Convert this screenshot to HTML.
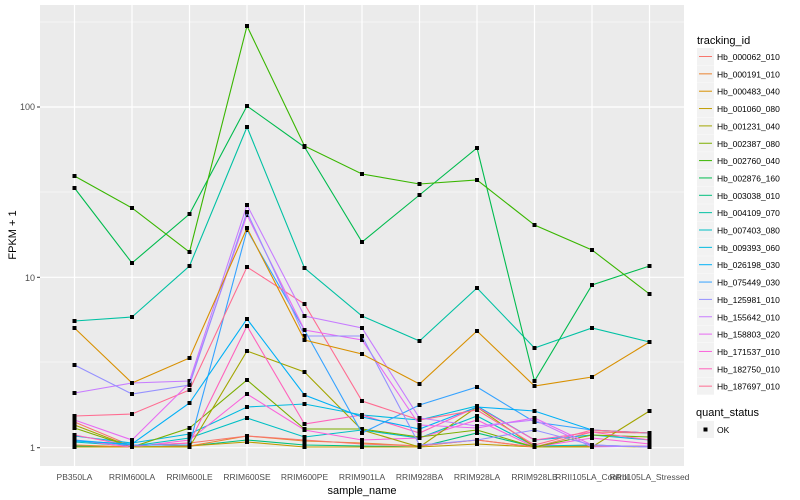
<!DOCTYPE html>
<html><head><meta charset="utf-8"><style>body{margin:0;background:#fff}svg{display:block;font-family:"Liberation Sans",sans-serif}</style></head><body>
<svg width="800" height="500" viewBox="0 0 800 500">
<defs><marker id="m" viewBox="0 0 4 4" refX="2" refY="2" markerWidth="4" markerHeight="4" markerUnits="userSpaceOnUse"><rect width="4" height="4" fill="#000"/></marker></defs>
<rect x="40" y="5" width="644" height="461" fill="#EBEBEB"/>
<g stroke="#fff" stroke-width="0.6"><line x1="40" x2="684" y1="362" y2="362"/><line x1="40" x2="684" y1="192" y2="192"/><line x1="40" x2="684" y1="22" y2="22"/></g>
<g stroke="#fff" stroke-width="1.2"><line x1="40" x2="684" y1="447.7" y2="447.7"/><line x1="40" x2="684" y1="277.3" y2="277.3"/><line x1="40" x2="684" y1="107" y2="107"/>
<line x1="74.5" x2="74.5" y1="5" y2="466"/><line x1="132" x2="132" y1="5" y2="466"/><line x1="189.5" x2="189.5" y1="5" y2="466"/><line x1="247" x2="247" y1="5" y2="466"/><line x1="304.5" x2="304.5" y1="5" y2="466"/><line x1="362" x2="362" y1="5" y2="466"/><line x1="419.5" x2="419.5" y1="5" y2="466"/><line x1="477" x2="477" y1="5" y2="466"/><line x1="534.5" x2="534.5" y1="5" y2="466"/><line x1="592" x2="592" y1="5" y2="466"/><line x1="649.5" x2="649.5" y1="5" y2="466"/></g>
<g fill="none" stroke-width="1.1" marker-start="url(#m)" marker-mid="url(#m)" marker-end="url(#m)">
<polyline stroke="#00BF7D" points="74.5,446 132,447 189.5,446 247,440 304.5,445 362,446 419.5,447 477,433 534.5,447 592,446 649.5,446"/>
<polyline stroke="#C09B00" points="74.5,447 132,447 189.5,446 247,442 304.5,447 362,447 419.5,447 477,444 534.5,447 592,446 649.5,447"/>
<polyline stroke="#EA8331" points="74.5,445 132,447 189.5,446 247,436 304.5,441 362,443 419.5,446 477,440 534.5,447 592,446 649.5,446"/>
<polyline stroke="#F8766D" points="74.5,422 132,446 189.5,443 247,436 304.5,440 362,444 419.5,446 477,440 534.5,447 592,432 649.5,433"/>
<polyline stroke="#00BFC4" points="74.5,442 132,446 189.5,438 247,418 304.5,437 362,430 419.5,438 477,416 534.5,446 592,445 649.5,447"/>
<polyline stroke="#00BAE0" points="74.5,436 132,443 189.5,434 247,407 304.5,404 362,415 419.5,420 477,406 534.5,440 592,435 649.5,440"/>
<polyline stroke="#FA62DB" points="74.5,440 132,447 189.5,440 247,394 304.5,430 362,440 419.5,438 477,420 534.5,447 592,438 649.5,444"/>
<polyline stroke="#7CAE00" points="74.5,428 132,447 189.5,428 247,380 304.5,429 362,429 419.5,437 477,430 534.5,447 592,435 649.5,437"/>
<polyline stroke="#A3A500" points="74.5,425 132,447 189.5,447 247,351 304.5,372 362,430 419.5,447 477,407 534.5,447 592,447 649.5,411"/>
<polyline stroke="#FF62BC" points="74.5,435 132,446 189.5,443 247,326 304.5,424 362,415 419.5,433 477,407 534.5,440 592,432 649.5,440"/>
<polyline stroke="#35A2FF" points="74.5,440 132,445 189.5,445 247,230 304.5,330 362,433 419.5,405 477,387 534.5,422 592,430 649.5,433"/>
<polyline stroke="#00B0F6" points="74.5,441 132,444 189.5,403 247,319 304.5,395 362,417 419.5,429 477,407 534.5,411 592,430 649.5,433"/>
<polyline stroke="#FF6C91" points="74.5,416 132,414 189.5,390 247,267 304.5,304 362,401 419.5,420 477,410 534.5,445 592,430 649.5,433"/>
<polyline stroke="#E76BF3" points="74.5,420 132,440 189.5,383 247,215 304.5,330 362,340 419.5,425 477,428 534.5,418 592,445 649.5,447"/>
<polyline stroke="#C77CFF" points="74.5,393 132,383 189.5,381 247,205 304.5,316 362,328 419.5,418 477,426 534.5,420 592,447 649.5,446"/>
<polyline stroke="#9590FF" points="74.5,365 132,394 189.5,385 247,212 304.5,336 362,336 419.5,445 477,440 534.5,430 592,445 649.5,447"/>
<polyline stroke="#D89000" points="74.5,328 132,383 189.5,358 247,228 304.5,340 362,354 419.5,384 477,331 534.5,386 592,377 649.5,342"/>
<polyline stroke="#00C1A3" points="74.5,321 132,317 189.5,266 247,127 304.5,268 362,316 419.5,341 477,288 534.5,348 592,328 649.5,342"/>
<polyline stroke="#00BB4E" points="74.5,188 132,263 189.5,214 247,106 304.5,147 362,242 419.5,195 477,148 534.5,381 592,285 649.5,266"/>
<polyline stroke="#39B600" points="74.5,176 132,208 189.5,252 247,26 304.5,146 362,174 419.5,184 477,180 534.5,225 592,250 649.5,294"/>
</g>
<g stroke="#333" stroke-width="1"><line x1="37" x2="40" y1="447.7" y2="447.7"/><line x1="37" x2="40" y1="277.3" y2="277.3"/><line x1="37" x2="40" y1="107" y2="107"/></g>
<g font-size="9" fill="#4D4D4D" text-anchor="end"><text x="35" y="451">1</text><text x="35" y="281">10</text><text x="35" y="110">100</text></g>
<g font-size="8.5" fill="#4D4D4D" text-anchor="middle"><text x="74.5" y="480">PB350LA</text><text x="132" y="480">RRIM600LA</text><text x="189.5" y="480">RRIM600LE</text><text x="247" y="480">RRIM600SE</text><text x="304.5" y="480">RRIM600PE</text><text x="362" y="480">RRIM901LA</text><text x="419.5" y="480">RRIM928BA</text><text x="477" y="480">RRIM928LA</text><text x="534.5" y="480">RRIM928LB</text><text x="592" y="480">RRII105LA_Control</text><text x="649.5" y="480">RRII105LA_Stressed</text></g>
<text x="362" y="494" font-size="11" text-anchor="middle">sample_name</text>
<text transform="translate(16,235) rotate(-90)" font-size="11" text-anchor="middle">FPKM + 1</text>
<text x="697" y="44" font-size="11">tracking_id</text>
<g font-size="8.5">
<g transform="translate(0,56)"><rect x="697" y="-8" width="17" height="17" fill="#F2F2F2"/><line x1="699" x2="712" y1="0.5" y2="0.5" stroke="#F8766D"/><text x="717" y="4">Hb_000062_010</text></g>
<g transform="translate(0,73.35)"><rect x="697" y="-8" width="17" height="17" fill="#F2F2F2"/><line x1="699" x2="712" y1="0.5" y2="0.5" stroke="#EA8331"/><text x="717" y="4">Hb_000191_010</text></g>
<g transform="translate(0,90.7)"><rect x="697" y="-8" width="17" height="17" fill="#F2F2F2"/><line x1="699" x2="712" y1="0.5" y2="0.5" stroke="#D89000"/><text x="717" y="4">Hb_000483_040</text></g>
<g transform="translate(0,108.05)"><rect x="697" y="-8" width="17" height="17" fill="#F2F2F2"/><line x1="699" x2="712" y1="0.5" y2="0.5" stroke="#C09B00"/><text x="717" y="4">Hb_001060_080</text></g>
<g transform="translate(0,125.4)"><rect x="697" y="-8" width="17" height="17" fill="#F2F2F2"/><line x1="699" x2="712" y1="0.5" y2="0.5" stroke="#A3A500"/><text x="717" y="4">Hb_001231_040</text></g>
<g transform="translate(0,142.75)"><rect x="697" y="-8" width="17" height="17" fill="#F2F2F2"/><line x1="699" x2="712" y1="0.5" y2="0.5" stroke="#7CAE00"/><text x="717" y="4">Hb_002387_080</text></g>
<g transform="translate(0,160.1)"><rect x="697" y="-8" width="17" height="17" fill="#F2F2F2"/><line x1="699" x2="712" y1="0.5" y2="0.5" stroke="#39B600"/><text x="717" y="4">Hb_002760_040</text></g>
<g transform="translate(0,177.45)"><rect x="697" y="-8" width="17" height="17" fill="#F2F2F2"/><line x1="699" x2="712" y1="0.5" y2="0.5" stroke="#00BB4E"/><text x="717" y="4">Hb_002876_160</text></g>
<g transform="translate(0,194.8)"><rect x="697" y="-8" width="17" height="17" fill="#F2F2F2"/><line x1="699" x2="712" y1="0.5" y2="0.5" stroke="#00BF7D"/><text x="717" y="4">Hb_003038_010</text></g>
<g transform="translate(0,212.15)"><rect x="697" y="-8" width="17" height="17" fill="#F2F2F2"/><line x1="699" x2="712" y1="0.5" y2="0.5" stroke="#00C1A3"/><text x="717" y="4">Hb_004109_070</text></g>
<g transform="translate(0,229.5)"><rect x="697" y="-8" width="17" height="17" fill="#F2F2F2"/><line x1="699" x2="712" y1="0.5" y2="0.5" stroke="#00BFC4"/><text x="717" y="4">Hb_007403_080</text></g>
<g transform="translate(0,246.85)"><rect x="697" y="-8" width="17" height="17" fill="#F2F2F2"/><line x1="699" x2="712" y1="0.5" y2="0.5" stroke="#00BAE0"/><text x="717" y="4">Hb_009393_060</text></g>
<g transform="translate(0,264.2)"><rect x="697" y="-8" width="17" height="17" fill="#F2F2F2"/><line x1="699" x2="712" y1="0.5" y2="0.5" stroke="#00B0F6"/><text x="717" y="4">Hb_026198_030</text></g>
<g transform="translate(0,281.55)"><rect x="697" y="-8" width="17" height="17" fill="#F2F2F2"/><line x1="699" x2="712" y1="0.5" y2="0.5" stroke="#35A2FF"/><text x="717" y="4">Hb_075449_030</text></g>
<g transform="translate(0,298.9)"><rect x="697" y="-8" width="17" height="17" fill="#F2F2F2"/><line x1="699" x2="712" y1="0.5" y2="0.5" stroke="#9590FF"/><text x="717" y="4">Hb_125981_010</text></g>
<g transform="translate(0,316.25)"><rect x="697" y="-8" width="17" height="17" fill="#F2F2F2"/><line x1="699" x2="712" y1="0.5" y2="0.5" stroke="#C77CFF"/><text x="717" y="4">Hb_155642_010</text></g>
<g transform="translate(0,333.6)"><rect x="697" y="-8" width="17" height="17" fill="#F2F2F2"/><line x1="699" x2="712" y1="0.5" y2="0.5" stroke="#E76BF3"/><text x="717" y="4">Hb_158803_020</text></g>
<g transform="translate(0,350.95)"><rect x="697" y="-8" width="17" height="17" fill="#F2F2F2"/><line x1="699" x2="712" y1="0.5" y2="0.5" stroke="#FA62DB"/><text x="717" y="4">Hb_171537_010</text></g>
<g transform="translate(0,368.3)"><rect x="697" y="-8" width="17" height="17" fill="#F2F2F2"/><line x1="699" x2="712" y1="0.5" y2="0.5" stroke="#FF62BC"/><text x="717" y="4">Hb_182750_010</text></g>
<g transform="translate(0,385.65)"><rect x="697" y="-8" width="17" height="17" fill="#F2F2F2"/><line x1="699" x2="712" y1="0.5" y2="0.5" stroke="#FF6C91"/><text x="717" y="4">Hb_187697_010</text></g>
</g>
<text x="696" y="416" font-size="11">quant_status</text>
<rect x="697" y="421" width="17" height="17" fill="#F2F2F2"/><rect x="703.5" y="427.5" width="4" height="4" fill="#000"/>
<text x="717" y="433" font-size="8.5">OK</text>
</svg>
</body></html>
